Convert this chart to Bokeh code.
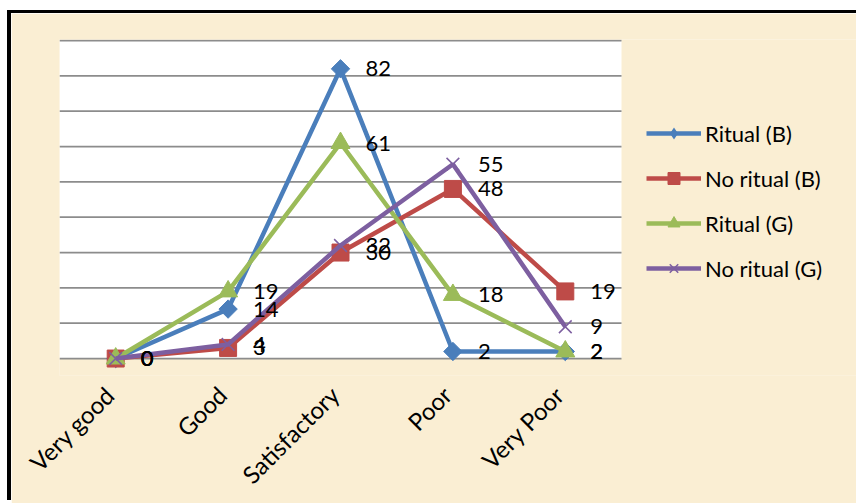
import math
from bokeh.plotting import figure
from bokeh.models import Range1d, FixedTicker, Legend, LegendItem
from bokeh.core.properties import value
from bokeh.embed import file_html
from bokeh.resources import INLINE

categories = ["Very good", "Good", "Satisfactory", "Poor", "Very Poor"]
ritual_b = [0, 14, 82, 2, 2]
no_ritual_b = [0, 3, 30, 48, 19]
ritual_g = [0, 19, 61, 18, 2]
no_ritual_g = [0, 4, 32, 55, 9]
series_names = ["Ritual (B)", "No ritual (B)", "Ritual (G)", "No ritual (G)"]
grid_ticks = list(range(0, 100, 10))

PARCH = "#faeed3"
FONT = "Lato"
FS = "22px"

n = len(categories)
xs = [i + 0.5 for i in range(n)]          # category centres
FRAME_W, PLOT_W = 797, 562                  # frame px, plot-area px
x_end = n * FRAME_W / PLOT_W
label_shift = 6 * n / PLOT_W                # move rotated labels ~6px left
Y_MIN, Y_MAX = -4.8, 90.3

p = figure(width=845, height=490,
           x_range=Range1d(0, x_end), y_range=Range1d(Y_MIN, Y_MAX),
           output_backend="svg", toolbar_location=None,
           min_border_left=48, min_border_right=0, min_border_top=26, min_border_bottom=128,
           outline_line_color=None)
p.background_fill_color = PARCH
p.border_fill_color = PARCH
p.margin = (13, 0, 0, 11)
p.styles = {"box-shadow": "-4px -3px 0 0 black, 0 -3px 0 0 black"}

# white plot area, parchment below the zero line
p.quad(left=[0], right=[n], bottom=[grid_ticks[0]], top=[grid_ticks[-1]],
       fill_color="white", line_color=None, level="image")
p.quad(left=[0], right=[x_end], bottom=[Y_MIN], top=[grid_ticks[0]],
       fill_color=PARCH, line_color=None, level="image")

p.xgrid.grid_line_color = None
p.ygrid.grid_line_color = None
p.segment(x0=[0] * len(grid_ticks), x1=[n] * len(grid_ticks), y0=grid_ticks, y1=grid_ticks,
          line_color="#8c8c8c", line_width=1.8, level="underlay")
p.yaxis.visible = False

ax = p.xaxis[0]
tick_pos = [x - label_shift for x in xs]
ax.ticker = FixedTicker(ticks=tick_pos)
ax.major_label_overrides = {t: c for t, c in zip(tick_pos, categories)}
ax.axis_line_color = None
ax.major_tick_line_color = None
ax.minor_tick_line_color = None
ax.major_label_orientation = math.pi / 4
ax.major_label_text_font = FONT
ax.major_label_text_font_size = "24px"
ax.major_label_text_color = "black"
ax.major_label_standoff = 9

colors = ["#4a7ebb", "#be4b48", "#9bbb59", "#7d5fa0"]
markers = ["square", "square", "triangle", "x"]
angles = [math.pi / 4, 0, 0, 0]
sizes = [13, 17, 19, 18]
data = [ritual_b, no_ritual_b, ritual_g, no_ritual_g]

items = []
for name, vals, col, mk, ang, sz in zip(series_names, data, colors, markers, angles, sizes):
    lr = p.line(xs, vals, line_color=col, line_width=4.5)
    if mk == "x":
        sr = p.scatter(xs, vals, marker=mk, size=sz, line_color=col, line_width=1.5)
    else:
        sr = p.scatter(xs, vals, marker=mk, size=sz, angle=ang,
                       fill_color=col, line_color=col, line_width=1)
    if ang:
        # legend shows a diamond (the rotated square loses its angle in the legend)
        sr = p.scatter(xs, vals, marker="diamond", size=0, fill_color=col, line_color=None)
    items.append(LegendItem(label=name, renderers=[lr, sr]))

for vals in data:
    p.text(xs, vals, text=[str(v) for v in vals], x_offset=25,
           text_baseline="middle", text_align="left",
           text_font=value(FONT), text_font_size=FS, text_color="black")

legend = Legend(items=items, location=(587, 92), padding=0, margin=0,
                background_fill_alpha=0, border_line_color=None,
                glyph_width=55, glyph_height=30, label_height=30, label_standoff=4,
                spacing=15, label_text_font=FONT, label_text_font_size=FS,
                label_text_color="black")
p.add_layout(legend, "center")

open("out.html", "w").write(file_html(p, INLINE))
